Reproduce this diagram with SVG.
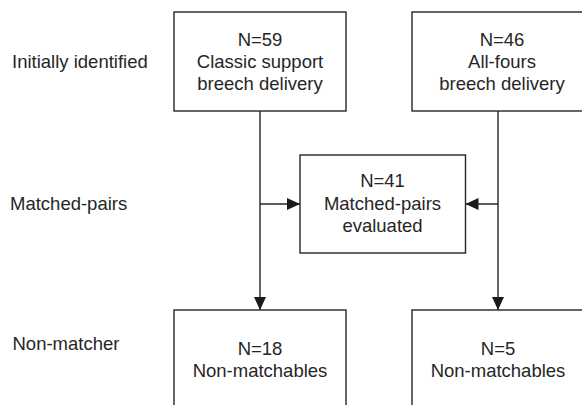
<svg xmlns="http://www.w3.org/2000/svg" width="582" height="405" viewBox="0 0 582 405">
<style>
text { font-family: "Liberation Sans", Arial, sans-serif; font-size: 18.5px; fill: #262626; }
.c { text-anchor: middle; }
.box { fill: #ffffff; stroke: #262626; stroke-width: 1.4; }
.line { fill: none; stroke: #262626; stroke-width: 1.4; }
</style>
<defs>
<marker id="arr" markerWidth="13" markerHeight="12" refX="13" refY="6" orient="auto" markerUnits="userSpaceOnUse">
<path d="M0,0 L13,6 L0,12 Z" fill="#1a1a1a"/>
</marker>
</defs>
<rect width="582" height="405" fill="#ffffff"/>
<g id="row-labels">
<text x="12" y="68">Initially identified</text>
<text x="10" y="210">Matched-pairs</text>
<text x="12.5" y="350">Non-matcher</text>
</g>
<g id="connectors">
<path class="line" d="M260,111 V310" marker-end="url(#arr)"/>
<path class="line" d="M498,111 V310" marker-end="url(#arr)"/>
<path class="line" d="M260,204 H300" marker-end="url(#arr)"/>
<path class="line" d="M498,204 H465.5" marker-end="url(#arr)"/>
</g>
<g id="classic">
<rect class="box" x="174" y="12" width="172" height="99"/>
<text class="c" x="260" y="46">N=59</text>
<text class="c" x="260" y="68">Classic support</text>
<text class="c" x="260" y="90">breech delivery</text>
</g>
<g id="allfours">
<rect class="box" x="412" y="12" width="180" height="99"/>
<text class="c" x="502" y="46">N=46</text>
<text class="c" x="502" y="68">All-fours</text>
<text class="c" x="502" y="90">breech delivery</text>
</g>
<g id="matched">
<rect class="box" x="300" y="155" width="165.5" height="98"/>
<text class="c" x="382.5" y="187">N=41</text>
<text class="c" x="382.5" y="210">Matched-pairs</text>
<text class="c" x="382.5" y="232">evaluated</text>
</g>
<g id="nonmatch-left">
<rect class="box" x="174" y="310" width="172" height="110"/>
<text class="c" x="260" y="355">N=18</text>
<text class="c" x="260" y="377">Non-matchables</text>
</g>
<g id="nonmatch-right">
<rect class="box" x="412" y="310" width="172" height="110"/>
<text class="c" x="498" y="355">N=5</text>
<text class="c" x="498" y="377">Non-matchables</text>
</g>
</svg>
